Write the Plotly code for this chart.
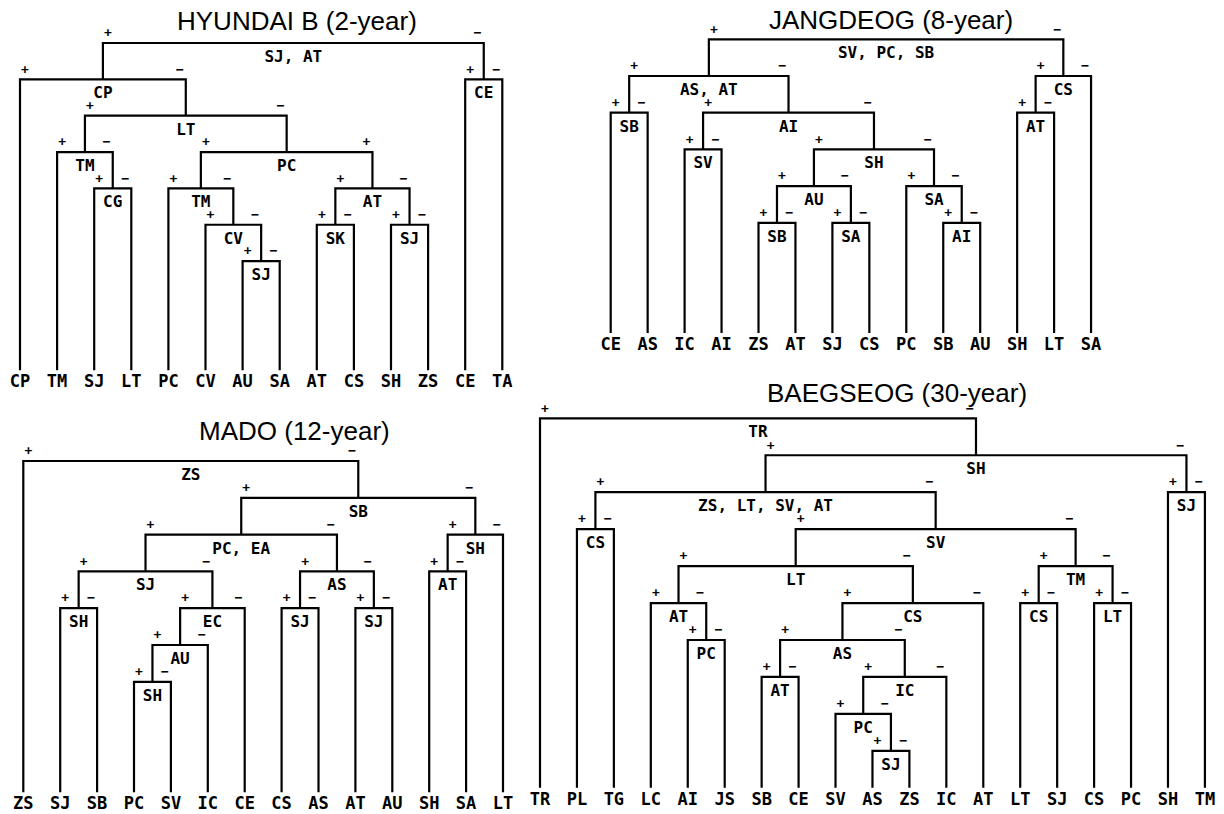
import plotly.graph_objects as go

W, H = 1224, 814

# ---------------------------------------------------------------------------
# Tree data.  Leaves are listed left to right; each split is
# (id, left child, right child, level, split label).  An int child is a leaf
# index, a str child refers to another split.  Level 0 is the root.
# ---------------------------------------------------------------------------

hyundai_leaves = ["CP", "TM", "SJ", "LT", "PC", "CV", "AU", "SA",
                  "AT", "CS", "SH", "ZS", "CE", "TA"]
hyundai_splits = [
    ("r", "a", "b", 0, "SJ, AT"),
    ("a", 0, "c", 1, "CP"),
    ("b", 12, 13, 1, "CE"),
    ("c", "d", "e", 2, "LT"),
    ("d", 1, "f", 3, "TM"),
    ("f", 2, 3, 4, "CG"),
    ("e", "g", "h", 3, "PC"),
    ("g", 4, "i", 4, "TM"),
    ("i", 5, "j", 5, "CV"),
    ("j", 6, 7, 6, "SJ"),
    ("h", "k", "l", 4, "AT"),
    ("k", 8, 9, 5, "SK"),
    ("l", 10, 11, 5, "SJ"),
]
hyundai_signs = {"e": ("+", "+")}
hyundai_depth = 9

jangdeog_leaves = ["CE", "AS", "IC", "AI", "ZS", "AT", "SJ", "CS",
                   "PC", "SB", "AU", "SH", "LT", "SA"]
jangdeog_splits = [
    ("r", "n1", "n2", 0, "SV, PC, SB"),
    ("n1", "n3", "n4", 1, "AS, AT"),
    ("n3", 0, 1, 2, "SB"),
    ("n4", "n5", "n6", 2, "AI"),
    ("n5", 2, 3, 3, "SV"),
    ("n6", "n7", "n8", 3, "SH"),
    ("n7", "n9", "n10", 4, "AU"),
    ("n9", 4, 5, 5, "SB"),
    ("n10", 6, 7, 5, "SA"),
    ("n8", 8, "n11", 4, "SA"),
    ("n11", 9, 10, 5, "AI"),
    ("n2", "n12", 13, 1, "CS"),
    ("n12", 11, 12, 2, "AT"),
]
jangdeog_signs = {}
jangdeog_depth = 8

mado_leaves = ["ZS", "SJ", "SB", "PC", "SV", "IC", "CE", "CS",
               "AS", "AT", "AU", "SH", "SA", "LT"]
mado_splits = [
    ("r", 0, "m1", 0, "ZS"),
    ("m1", "m2", "m3", 1, "SB"),
    ("m2", "m4", "m5", 2, "PC, EA"),
    ("m4", "m6", "m7", 3, "SJ"),
    ("m6", 1, 2, 4, "SH"),
    ("m7", "m8", 6, 4, "EC"),
    ("m8", "m9", 5, 5, "AU"),
    ("m9", 3, 4, 6, "SH"),
    ("m5", "m10", "m11", 3, "AS"),
    ("m10", 7, 8, 4, "SJ"),
    ("m11", 9, 10, 4, "SJ"),
    ("m3", "m12", 13, 2, "SH"),
    ("m12", 11, 12, 3, "AT"),
]
mado_signs = {}
mado_depth = 9

baegseog_leaves = ["TR", "PL", "TG", "LC", "AI", "JS", "SB", "CE", "SV", "AS",
                   "ZS", "IC", "AT", "LT", "SJ", "CS", "PC", "SH", "TM"]
baegseog_splits = [
    ("r", 0, "b1", 0, "TR"),
    ("b1", "b2", "b3", 1, "SH"),
    ("b2", "b4", "b5", 2, "ZS, LT, SV, AT"),
    ("b4", 1, 2, 3, "CS"),
    ("b5", "b6", "b7", 3, "SV"),
    ("b6", "b8", "b9", 4, "LT"),
    ("b8", 3, "b10", 5, "AT"),
    ("b10", 4, 5, 6, "PC"),
    ("b9", "b11", 12, 5, "CS"),
    ("b11", "b12", "b13", 6, "AS"),
    ("b12", 6, 7, 7, "AT"),
    ("b13", "b14", 11, 7, "IC"),
    ("b14", 8, "b15", 8, "PC"),
    ("b15", 9, 10, 9, "SJ"),
    ("b7", "b16", "b17", 4, "TM"),
    ("b16", 13, 14, 5, "CS"),
    ("b17", 15, 16, 5, "LT"),
    ("b3", 17, 18, 2, "SJ"),
]
baegseog_signs = {}
baegseog_depth = 10

# ---------------------------------------------------------------------------
# Panel geometry (pixels): panel box, first leaf x, leaf spacing,
# root level y, level spacing, title centre.
# ---------------------------------------------------------------------------
panels = [
    dict(title="HYUNDAI B (2-year)", leaves=hyundai_leaves, splits=hyundai_splits,
         signs=hyundai_signs, depth=hyundai_depth,
         box=(0, 540, 0, 400), x0=20.0, dx=37.1, y0=43.0, dy=36.35, tpos=(297, 21)),
    dict(title="JANGDEOG (8-year)", leaves=jangdeog_leaves, splits=jangdeog_splits,
         signs=jangdeog_signs, depth=jangdeog_depth,
         box=(590, 1224, 0, 380), x0=610.7, dx=36.95, y0=39.3, dy=36.7, tpos=(891, 20)),
    dict(title="MADO (12-year)", leaves=mado_leaves, splits=mado_splits,
         signs=mado_signs, depth=mado_depth,
         box=(0, 525, 400, 814), x0=23.3, dx=36.9, y0=461.0, dy=36.8, tpos=(294, 431)),
    dict(title="BAEGSEOG (30-year)", leaves=baegseog_leaves, splits=baegseog_splits,
         signs=baegseog_signs, depth=baegseog_depth,
         box=(525, 1224, 380, 814), x0=540.0, dx=36.94, y0=418.3, dy=36.95, tpos=(897, 393)),
]

MONO = "DejaVu Sans Mono"
LABEL_FONT = dict(family=MONO, size=17, color="black", weight="bold")
SPLIT_FONT = dict(family=MONO, size=16, color="black", weight="bold")
SIGN_FONT = dict(family=MONO, size=13, color="black", weight="bold")

fig = go.Figure()
layout_axes = {}
annotations = []

for k, p in enumerate(panels, start=1):
    xa = "x" if k == 1 else f"x{k}"
    ya = "y" if k == 1 else f"y{k}"
    X0, X1, Y0, Y1 = p["box"]
    dx, dy = p["dx"], p["dy"]

    layout_axes["xaxis" if k == 1 else f"xaxis{k}"] = dict(
        domain=[X0 / W, X1 / W], range=[(X0 - p["x0"]) / dx, (X1 - p["x0"]) / dx],
        visible=False, anchor=ya, fixedrange=True)
    layout_axes["yaxis" if k == 1 else f"yaxis{k}"] = dict(
        domain=[1 - Y1 / H, 1 - Y0 / H],
        range=[(Y1 - p["y0"]) / dy, (Y0 - p["y0"]) / dy],
        visible=False, anchor=xa, fixedrange=True)

    info = {s[0]: s for s in p["splits"]}
    xs = {}

    def xpos(c):
        if isinstance(c, int):
            return float(c)
        if c not in xs:
            _, l, r, _, _ = info[c]
            xs[c] = (xpos(l) + xpos(r)) / 2
        return xs[c]

    def ylev(c):
        return p["depth"] if isinstance(c, int) else info[c][3]

    lx, ly = [], []
    sx, sy, st = [], [], []
    gx, gy, gt = [], [], []
    for sid, l, r, lev, lab in p["splits"]:
        xl, xr = xpos(l), xpos(r)
        # left drop, crossbar, right drop
        lx += [xl, xl, xr, xr, None]
        ly += [ylev(l), lev, lev, ylev(r), None]
        sx.append((xl + xr) / 2)
        sy.append(lev + 15 / dy)
        st.append(lab)
        left_sign, right_sign = p["signs"].get(sid, ("+", "\u2212"))
        gx += [xl + 5 / dx, xr - 6 / dx]
        gy += [lev - 9 / dy, lev - 9 / dy]
        gt += [left_sign, right_sign]

    fig.add_trace(go.Scatter(x=lx, y=ly, mode="lines", xaxis=xa, yaxis=ya,
                             line=dict(color="black", width=2.2),
                             hoverinfo="skip", showlegend=False))
    n = len(p["leaves"])
    fig.add_trace(go.Scatter(x=list(range(n)), y=[p["depth"] + 13 / dy] * n,
                             text=p["leaves"], mode="text", xaxis=xa, yaxis=ya,
                             textfont=LABEL_FONT, cliponaxis=False,
                             hoverinfo="skip", showlegend=False))
    fig.add_trace(go.Scatter(x=sx, y=sy, text=st, mode="text", xaxis=xa, yaxis=ya,
                             textfont=SPLIT_FONT, cliponaxis=False,
                             hoverinfo="skip", showlegend=False))
    fig.add_trace(go.Scatter(x=gx, y=gy, text=gt, mode="text", xaxis=xa, yaxis=ya,
                             textfont=SIGN_FONT, cliponaxis=False,
                             hoverinfo="skip", showlegend=False))

    tx, ty = p["tpos"]
    annotations.append(dict(text=p["title"], x=tx / W, y=1 - ty / H,
                            xref="paper", yref="paper", showarrow=False,
                            xanchor="center", yanchor="middle",
                            font=dict(family="Liberation Sans", size=26, color="black")))

fig.update_layout(
    width=W, height=H, margin=dict(l=0, r=0, t=0, b=0),
    paper_bgcolor="white", plot_bgcolor="rgba(0,0,0,0)",
    showlegend=False, annotations=annotations, **layout_axes)

fig.write_html("out.html", config={"displayModeBar": False})
